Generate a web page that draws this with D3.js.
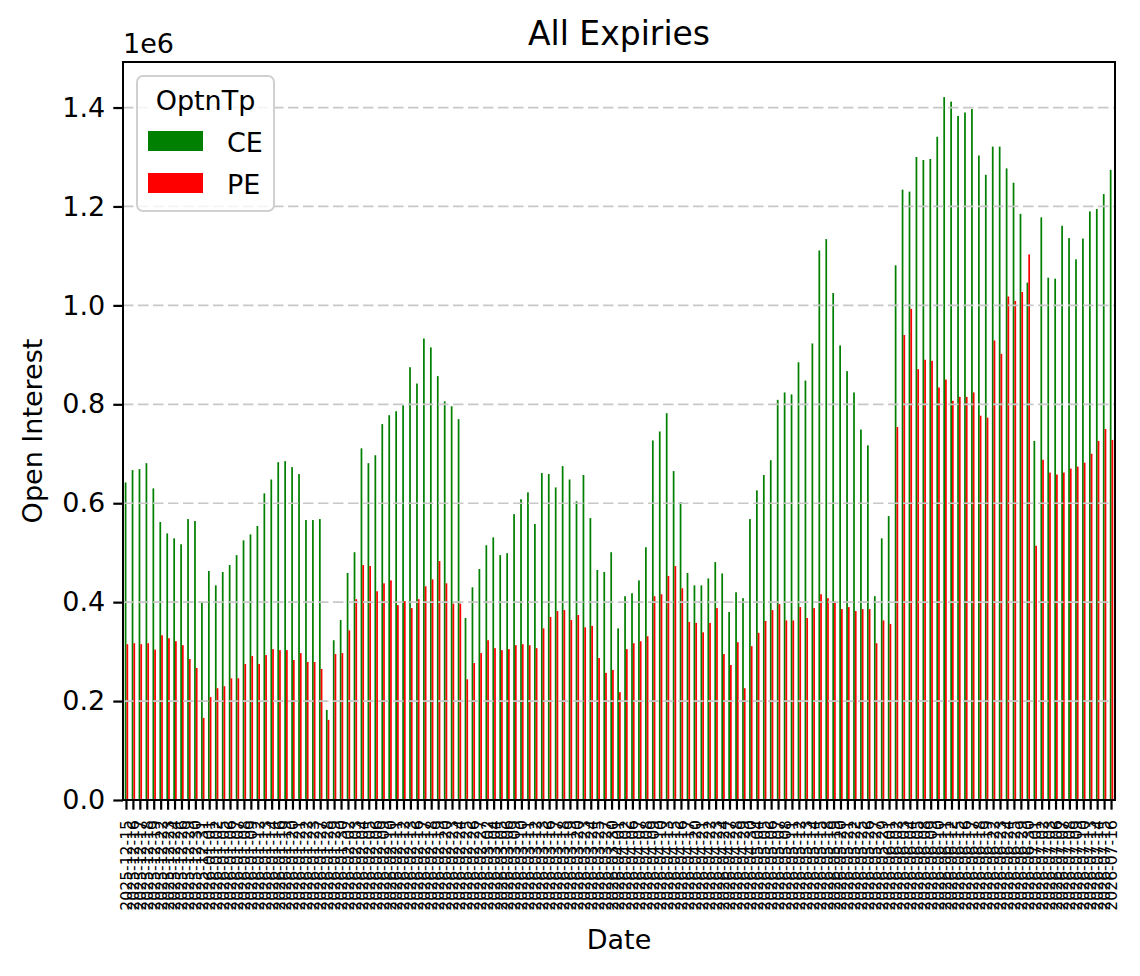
<!DOCTYPE html>
<html lang="en">
<head>
  <meta charset="UTF-8">
  <title>All Expiries</title>
  <script src="https://d3js.org/d3.v7.min.js"></script>
  <style>
    body { margin: 0; background: #fff; }
    svg { font-family: "DejaVu Sans", sans-serif; display: block; }
  </style>
</head>
<body>
  <div id="chart"></div>

  <script>
    // trading dates (categories)
    const dates = [
      "2025-12-15","2025-12-16","2025-12-17","2025-12-18","2025-12-19",
      "2025-12-22","2025-12-23","2025-12-24","2025-12-26",
      "2025-12-29","2025-12-30","2025-12-31",
      "2026-01-01","2026-01-02",
      "2026-01-05","2026-01-06","2026-01-07","2026-01-08","2026-01-09",
      "2026-01-12","2026-01-13","2026-01-14","2026-01-16",
      "2026-01-19","2026-01-20","2026-01-21","2026-01-22","2026-01-23",
      "2026-01-27","2026-01-28","2026-01-29","2026-01-30",
      "2026-02-02","2026-02-03","2026-02-04","2026-02-05","2026-02-06",
      "2026-02-09","2026-02-10","2026-02-11","2026-02-12","2026-02-13",
      "2026-02-16","2026-02-17","2026-02-18","2026-02-19","2026-02-20",
      "2026-02-23","2026-02-24","2026-02-25","2026-02-26","2026-02-27",
      "2026-03-02","2026-03-04","2026-03-05","2026-03-06",
      "2026-03-09","2026-03-10","2026-03-11","2026-03-12","2026-03-13",
      "2026-03-16","2026-03-17","2026-03-18","2026-03-19","2026-03-20",
      "2026-03-23","2026-03-24","2026-03-25","2026-03-27",
      "2026-03-30",
      "2026-04-01","2026-04-02",
      "2026-04-06","2026-04-07","2026-04-08","2026-04-09","2026-04-10",
      "2026-04-13","2026-04-15","2026-04-16","2026-04-17",
      "2026-04-20","2026-04-21","2026-04-22","2026-04-23","2026-04-24",
      "2026-04-27","2026-04-28","2026-04-29","2026-04-30",
      "2026-05-04","2026-05-05","2026-05-06","2026-05-07","2026-05-08",
      "2026-05-11","2026-05-12","2026-05-13","2026-05-14","2026-05-15",
      "2026-05-18","2026-05-19","2026-05-20","2026-05-21","2026-05-22",
      "2026-05-25","2026-05-26","2026-05-27","2026-05-29",
      "2026-06-01","2026-06-02","2026-06-03","2026-06-04","2026-06-05",
      "2026-06-08","2026-06-09","2026-06-10","2026-06-11","2026-06-12",
      "2026-06-15","2026-06-16","2026-06-17","2026-06-18","2026-06-19",
      "2026-06-22","2026-06-23","2026-06-24","2026-06-25",
      "2026-06-29","2026-06-30",
      "2026-07-01","2026-07-02","2026-07-03",
      "2026-07-06","2026-07-07","2026-07-08","2026-07-09","2026-07-10",
      "2026-07-13","2026-07-14","2026-07-15","2026-07-16"
    ];

    // open interest, CE calls (millions)
    const ceOI = [
      0.642,0.667,0.669,0.681,0.630,0.562,0.539,0.529,0.517,0.568,
      0.564,0.399,0.463,0.434,0.461,0.475,0.495,0.525,0.537,0.554,
      0.620,0.648,0.683,0.685,0.673,0.659,0.566,0.566,0.568,0.182,
      0.323,0.364,0.459,0.501,0.711,0.681,0.697,0.760,0.778,0.786,
      0.798,0.875,0.842,0.933,0.915,0.857,0.806,0.796,0.770,0.368,
      0.430,0.467,0.515,0.531,0.495,0.499,0.578,0.608,0.622,0.558,
      0.661,0.659,0.632,0.675,0.648,0.604,0.657,0.570,0.465,0.461,
      0.501,0.347,0.412,0.418,0.444,0.511,0.727,0.745,0.782,0.665,
      0.602,0.459,0.434,0.434,0.448,0.481,0.458,0.380,0.420,0.408,
      0.568,0.626,0.657,0.687,0.809,0.824,0.820,0.885,0.848,0.923,
      1.111,1.134,1.025,0.919,0.867,0.824,0.749,0.717,0.412,0.529,
      0.574,1.081,1.234,1.230,1.300,1.294,1.296,1.341,1.421,1.412,
      1.383,1.390,1.397,1.303,1.264,1.321,1.321,1.277,1.248,1.185,
      1.046,0.726,1.178,1.056,1.054,1.161,1.136,1.093,1.135,1.190,
      1.195,1.225,1.274
    ];

    // open interest, PE puts (millions)
    const peOI = [
      0.315,0.317,0.315,0.317,0.304,0.333,0.327,0.321,0.313,0.285,
      0.267,0.166,0.208,0.226,0.230,0.246,0.246,0.275,0.291,0.275,
      0.293,0.305,0.303,0.303,0.283,0.297,0.279,0.279,0.265,0.162,
      0.295,0.297,0.343,0.406,0.475,0.473,0.422,0.438,0.444,0.394,
      0.402,0.388,0.406,0.432,0.446,0.483,0.438,0.397,0.397,0.244,
      0.277,0.297,0.323,0.307,0.303,0.305,0.313,0.315,0.313,0.307,
      0.347,0.370,0.382,0.384,0.364,0.374,0.349,0.352,0.287,0.257,
      0.263,0.218,0.305,0.317,0.321,0.331,0.412,0.416,0.453,0.473,
      0.428,0.360,0.358,0.339,0.358,0.388,0.295,0.273,0.319,0.226,
      0.311,0.338,0.362,0.384,0.396,0.363,0.363,0.390,0.368,0.388,
      0.416,0.408,0.402,0.386,0.390,0.382,0.386,0.386,0.317,0.363,
      0.356,0.754,0.940,0.993,0.871,0.890,0.888,0.834,0.850,0.807,
      0.815,0.815,0.824,0.777,0.773,0.929,0.902,1.018,1.009,1.027,
      1.103,0.514,0.688,0.662,0.658,0.662,0.670,0.674,0.682,0.700,
      0.726,0.750,0.728
    ];

    const seriesNames = ["CE", "PE"];
    const seriesColors = ["#008000", "#ff0000"];
    const yTicks = [0, 0.2, 0.4, 0.6, 0.8, 1.0, 1.2, 1.4];

    const W = 1140, H = 976;
    const margin = {top: 62, right: 25, bottom: 176, left: 123};
    const plotW = W - margin.left - margin.right,
          plotH = H - margin.top - margin.bottom;

    const svg = d3.select("#chart")
                  .append("svg")
                  .attr("width", W)
                  .attr("height", H);

    const g = svg.append("g")
                 .attr("transform", `translate(${margin.left},${margin.top})`);

    const data = dates.map((d, i) => ({date: d, CE: ceOI[i] * 1e6, PE: peOI[i] * 1e6}));

    const x = d3.scaleBand()
                .domain(dates)
                .range([0, plotW])
                .padding(0);
    const bw = x.bandwidth();

    const yMax = d3.max(data, d => Math.max(d.CE, d.PE)) * 1.05;
    const y = d3.scaleLinear()
                .domain([0, yMax])
                .range([plotH, 0]);

    // bars (each series is a quarter of the band, pandas style)
    seriesNames.forEach((s, k) => {
      g.selectAll(".bar-" + s)
       .data(data)
       .enter()
       .append("rect")
       .attr("class", "bar-" + s)
       .attr("x", d => x(d.date) + bw / 2 + (k - 1) * bw * 0.25)
       .attr("y", d => y(d[s]))
       .attr("width", bw * 0.25)
       .attr("height", d => plotH - y(d[s]))
       .attr("fill", seriesColors[k]);
    });

    // grid drawn over the bars
    g.selectAll(".grid")
     .data(yTicks)
     .enter()
     .append("line")
     .attr("x1", 0).attr("x2", plotW)
     .attr("y1", d => y(d * 1e6)).attr("y2", d => y(d * 1e6))
     .attr("stroke", "#c8c8c8")
     .attr("stroke-width", 1.7)
     .attr("stroke-dasharray", "10.5,4.5");

    // y axis
    const yAxis = g.append("g")
       .call(d3.axisLeft(y)
               .tickValues(yTicks.map(v => v * 1e6))
               .tickFormat(v => (v / 1e6).toFixed(1))
               .tickSize(9.7)
               .tickPadding(8));
    yAxis.select(".domain").remove();
    yAxis.selectAll(".tick line").attr("stroke", "#000").attr("stroke-width", 2.2);
    yAxis.selectAll(".tick text")
         .attr("font-size", 27)
         .attr("font-family", "DejaVu Sans")
         .attr("fill", "#000");

    // x axis
    const xAxis = g.append("g")
       .attr("transform", `translate(0,${plotH})`)
       .call(d3.axisBottom(x).tickSize(9.7).tickPadding(0));
    xAxis.select(".domain").remove();
    xAxis.selectAll(".tick line").attr("stroke", "#000").attr("stroke-width", 2.2);
    xAxis.selectAll(".tick text")
         .attr("font-size", 15.6)
         .attr("font-family", "DejaVu Sans")
         .attr("fill", "#000")
         .attr("text-anchor", "end")
         .attr("transform", "translate(0,20) rotate(-90)")
         .attr("x", 0)
         .attr("y", 0)
         .attr("dy", "0.35em");

    // frame
    g.append("rect")
     .attr("width", plotW).attr("height", plotH)
     .attr("fill", "none")
     .attr("stroke", "#000")
     .attr("stroke-width", 2);

    // offset text
    svg.append("text")
       .attr("x", margin.left).attr("y", 53)
       .attr("font-size", 27)
       .text("1e6");

    // title and axis labels
    svg.append("text")
       .attr("x", margin.left + plotW / 2).attr("y", 45)
       .attr("text-anchor", "middle")
       .attr("font-size", 33)
       .text("All Expiries");

    svg.append("text")
       .attr("x", margin.left + plotW / 2).attr("y", 949)
       .attr("text-anchor", "middle")
       .attr("font-size", 27)
       .text("Date");

    svg.append("text")
       .attr("transform", `translate(42,${margin.top + plotH / 2}) rotate(-90)`)
       .attr("text-anchor", "middle")
       .attr("font-size", 27)
       .text("Open Interest");

    // legend
    const lg = svg.append("g").attr("transform", "translate(137,76)");
    lg.append("rect")
      .attr("width", 137).attr("height", 135)
      .attr("rx", 6)
      .attr("fill", "#fff").attr("fill-opacity", 0.8)
      .attr("stroke", "#d0d0d0").attr("stroke-width", 2);
    lg.append("text")
      .attr("x", 68.5).attr("y", 34)
      .attr("text-anchor", "middle")
      .attr("font-size", 27)
      .text("OptnTp");
    seriesNames.forEach((s, k) => {
      lg.append("rect")
        .attr("x", 11).attr("y", 55 + k * 42)
        .attr("width", 55).attr("height", 20)
        .attr("fill", seriesColors[k]);
      lg.append("text")
        .attr("x", 90).attr("y", 76 + k * 42)
        .attr("font-size", 27)
        .text(s);
    });
  </script>
</body>
</html>
